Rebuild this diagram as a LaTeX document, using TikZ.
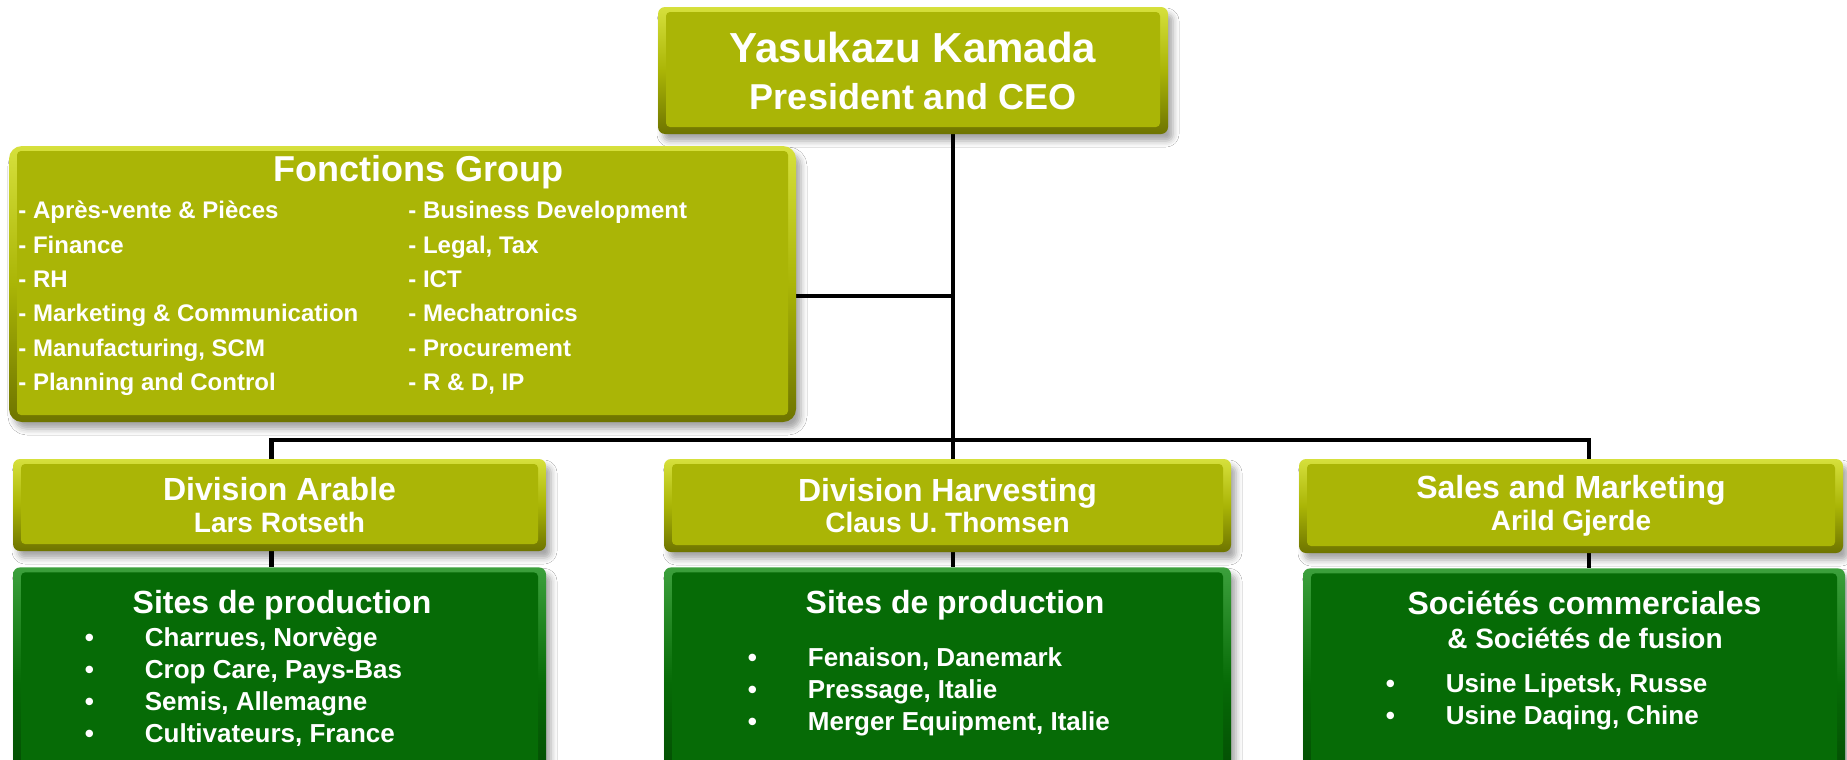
\documentclass[tikz,border=0pt]{standalone}
\usepackage{fontspec}
\setmainfont{Liberation Sans}
\usetikzlibrary{shadows.blur, positioning, backgrounds}

\definecolor{oliveMain}{RGB}{170,181,6}
\definecolor{oliveLight}{RGB}{214,224,60}
\definecolor{oliveDark}{RGB}{110,116,0}
\definecolor{greenMain}{RGB}{6,107,6}
\definecolor{greenLight}{RGB}{60,160,60}
\definecolor{greenDark}{RGB}{3,70,3}

\newcommand{\bul}{\makebox[30pt][l]{\textbullet}}

\begin{document}
\begin{tikzpicture}[
    x=0.5pt, y=-0.5pt,
    bevel/.style n args={4}{
      rounded corners=#4,
      top color=#2, bottom color=#3, middle color=#1,
      path picture={
        \fill[#1, rounded corners=2pt]
          ([shift={(4pt,-2.5pt)}]path picture bounding box.north west) rectangle
          ([shift={(-4pt,3.5pt)}]path picture bounding box.south east);
      },
      blur shadow={shadow xshift=2.5pt, shadow yshift=-3.5pt,
        shadow blur radius=3pt, shadow opacity=35},
      text=white, align=center, inner sep=0pt
    },
    olivebox/.style={bevel={oliveMain}{oliveLight}{oliveDark}{3.5pt}},
    roundbox/.style={bevel={oliveMain}{oliveLight}{oliveDark}{6.5pt}},
    greenbox/.style={bevel={greenMain}{greenLight}{greenDark}{3.5pt}},
    headtext/.style={text=white, font=\fontsize{16}{18}\selectfont\bfseries,
      anchor=base, inner sep=0pt},
    subtext/.style={headtext, font=\fontsize{14}{16}\selectfont\bfseries},
    itemtext/.style={text=white, font=\fontsize{13}{16}\selectfont\bfseries,
      anchor=base west, inner sep=0pt},
    link/.style={line width=2.2pt, black}
  ]
    \useasboundingbox (0,0) rectangle (1847,760);
    \clip (0,0) rectangle (1847,760);

    % top
    \node[olivebox, minimum width=255pt, minimum height=63.5pt,
      font=\fontsize{18}{23.5}\selectfont\bfseries] (ceo) at (913,70.5)
      {{\fontsize{21}{23.5}\selectfont Yasukazu Kamada}\\President and CEO};

    % group functions
    \node[roundbox, minimum width=393.5pt, minimum height=138pt] (fonct) at (402.5,284) {};
    \node[headtext, font=\fontsize{18}{20}\selectfont\bfseries] (fonctTitle) at (418,181) {Fonctions Group};
    \node[itemtext, font=\fontsize{12}{17.2}\selectfont\bfseries] (fonctList) at (18,218.6)
      {\begin{tabular}[t]{@{}p{195pt}@{}l@{}}
        - Après-vente \& Pièces & - Business Development\\
        - Finance & - Legal, Tax\\
        - RH & - ICT\\
        - Marketing \& Communication & - Mechatronics\\
        - Manufacturing, SCM & - Procurement\\
        - Planning and Control & - R \& D, IP
      \end{tabular}};

    % divisions
    \node[olivebox, minimum width=266.5pt, minimum height=46pt,
      font=\fontsize{14}{15.75}\selectfont\bfseries] (arable) at (279.5,505)
      {{\fontsize{16}{15.75}\selectfont Division Arable}\\Lars Rotseth};
    \node[olivebox, minimum width=283.5pt, minimum height=46.5pt,
      font=\fontsize{14}{15.75}\selectfont\bfseries] (harv) at (947.5,505.5)
      {{\fontsize{16}{15.75}\selectfont Division Harvesting}\\Claus U. Thomsen};
    \node[olivebox, minimum width=272pt, minimum height=47pt,
      font=\fontsize{14}{15.75}\selectfont\bfseries] (sales) at (1571,506)
      {{\fontsize{16}{15.75}\selectfont Sales and Marketing}\\Arild Gjerde};

    % sites
    \node[greenbox, minimum width=266.5pt, minimum height=115pt, anchor=north] (sitesA) at (279.5,567) {};
    \node[greenbox, minimum width=283.5pt, minimum height=115pt, anchor=north] (sitesH) at (947.5,567) {};
    \node[greenbox, minimum width=271pt, minimum height=115pt, anchor=north] (sitesS) at (1574,568) {};

    \node[headtext] (sitesATitle) at (282,613.5) {Sites de production};
    \node[itemtext] (sitesAList) at (84.5,646)
      {\begin{tabular}[t]{@{}l@{}}
        \bul Charrues, Norvège\\
        \bul Crop Care, Pays-Bas\\
        \bul Semis, Allemagne\\
        \bul Cultivateurs, France
      \end{tabular}};

    \node[headtext] (sitesHTitle) at (955,613.5) {Sites de production};
    \node[itemtext] (sitesHList) at (747.5,666)
      {\begin{tabular}[t]{@{}l@{}}
        \bul Fenaison, Danemark\\
        \bul Pressage, Italie\\
        \bul Merger Equipment, Italie
      \end{tabular}};

    \node[headtext] (sitesSTitle) at (1584.5,614.5) {Sociétés commerciales};
    \node[subtext] (sitesSSub) at (1585,648) {\& Sociétés de fusion};
    \node[itemtext] (sitesSList) at (1385.5,692)
      {\begin{tabular}[t]{@{}l@{}}
        \bul Usine Lipetsk, Russe\\
        \bul Usine Daqing, Chine
      \end{tabular}};

    % connectors
    \coordinate (trunk) at (953,440);
    \begin{scope}[on background layer]
      \fill[white] (0,0) rectangle (1847,760);
      \draw[link] (ceo.south -| trunk) -- (trunk) -- (trunk |- harv.north);
      \draw[link] ([yshift=-6pt]fonct.east) -- ([yshift=-6pt]fonct.east -| trunk);
      \draw[link] ([xshift=-4pt]arable.north) |- (trunk) -| ([xshift=9pt]sales.north);
      \draw[link] ([xshift=-4pt]arable.south) -- ([xshift=-4pt]sitesA.north);
      \draw[link] (harv.south -| trunk) -- (sitesH.north -| trunk);
      \draw[link] ([xshift=9pt]sales.south) -- ([xshift=9pt]sales.south |- sitesS.north);
    \end{scope}
  \end{tikzpicture}
\end{document}
